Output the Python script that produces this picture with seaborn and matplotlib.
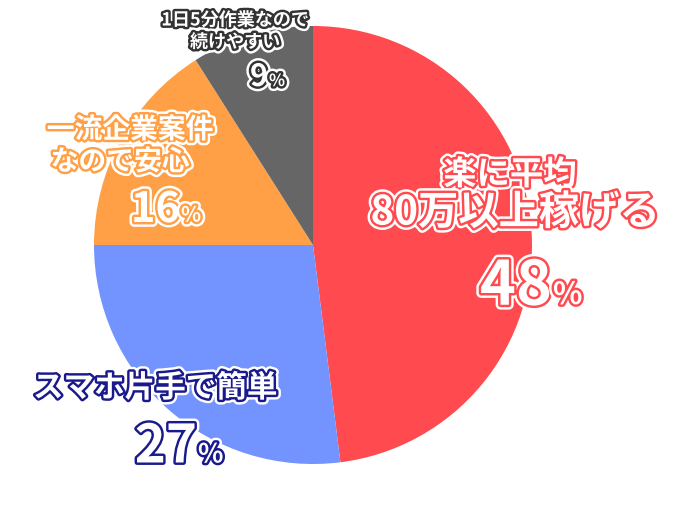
import matplotlib
matplotlib.use("Agg")
import matplotlib.pyplot as plt
import matplotlib.patheffects as pe
import seaborn as sns

categories = ["楽に平均80万以上稼げる", "スマホ片手で簡単", "一流企業案件なので安心", "1日5分作業なので続けやすい"]
values = [48, 27, 16, 9]
colors = ["#FF4A4F", "#7393FF", "#FFA046", "#666666"]
outlines = ["#FF4A4F", "#1A1A8C", "#FFA046", "#333333"]

sns.set_theme(style="white")
plt.rcParams['font.family'] = ['Noto Sans CJK JP', 'DejaVu Sans']

fig = plt.figure(figsize=(6.76, 5.05), dpi=100)
ax = fig.add_axes([0, 0, 1, 1])
ax.pie(values, colors=sns.color_palette(colors), startangle=90, counterclock=False,
       center=(313, 260), radius=219, wedgeprops=dict(linewidth=0))
ax.set_xlim(0, 676); ax.set_ylim(0, 505); ax.set_aspect('equal'); ax.axis('off')

def T(x, y, s, size, c, ha='center'):
    ax.text(x, 505 - y, s, fontsize=size, fontweight='bold', color='white', ha=ha, va='center',
            path_effects=[pe.Stroke(linewidth=7, foreground='white'),
                          pe.Stroke(linewidth=3.5, foreground=c), pe.Normal()])

# red
T(510, 175, "楽に平均", 24, outlines[0])
T(515, 213, "80万以上稼げる", 29, outlines[0])
T(552, 287, f"{values[0]}", 44, outlines[0], ha='right')
T(553, 295, "%", 22, outlines[0], ha='left')
# blue
T(155, 388, "スマホ片手で簡単", 22, outlines[1])
T(197, 447, f"{values[1]}", 38, outlines[1], ha='right')
T(198, 455, "%", 19, outlines[1], ha='left')
# orange
T(130, 130, "一流企業案件", 20, outlines[2])
T(120, 162, "なので安心", 20, outlines[2])
T(180, 210, f"{values[2]}", 30, outlines[2], ha='right')
T(181, 215, "%", 15, outlines[2], ha='left')
# gray
T(235, 20, "1日5分作業なので", 13, outlines[3])
T(235, 42, "続けやすい", 13, outlines[3])
T(268, 77, f"{values[3]}", 22, outlines[3], ha='right')
T(269, 81, "%", 12, outlines[3], ha='left')

fig.savefig("out.png", dpi=100, facecolor='white')
